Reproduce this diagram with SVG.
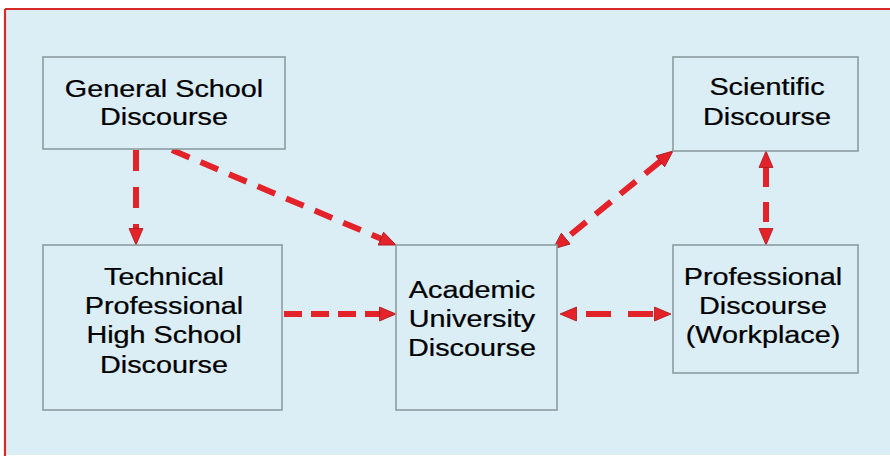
<svg xmlns="http://www.w3.org/2000/svg" width="890" height="456" viewBox="0 0 890 456">
<style>
.box{fill:#dbeef6;stroke:#8c9c9f;stroke-width:1.6}
.lbl{font-family:"Liberation Sans",Arial,sans-serif;font-size:24px;fill:#000000;stroke:#000000;stroke-width:0.25;text-anchor:middle}
.cn{fill:none;stroke:#e3222a;stroke-width:6}
</style>
<defs>
<marker id="ah" markerUnits="userSpaceOnUse" markerWidth="18" markerHeight="16" refX="1" refY="8" orient="auto-start-reverse" viewBox="0 0 18 16">
<path d="M0.5,1 L17,8 L0.5,15 z" fill="#e3222a" stroke="#a8161c" stroke-width="0.8"/>
</marker>
</defs>
<rect x="0" y="0" width="890" height="456" fill="#ffffff"/>
<rect x="5" y="9" width="890" height="446" fill="#dbeef6"/>
<line x1="5" y1="9" x2="890" y2="9" stroke="#d62a2a" stroke-width="2.2"/>
<line x1="5" y1="9" x2="5" y2="456" stroke="#d62a2a" stroke-width="2.2"/>

<g id="connectors">
<path class="cn" d="M136,150 V229" stroke-dasharray="21 16" marker-end="url(#ah)"/>
<path class="cn" d="M172,150 L381.3,238.8" stroke-dasharray="19 12" marker-end="url(#ah)"/>
<path class="cn" d="M284,314 H380" stroke-dasharray="18 9" marker-end="url(#ah)"/>
<path class="cn" d="M576,314 H655" stroke-dasharray="25 17" stroke-dashoffset="32" marker-start="url(#ah)" marker-end="url(#ah)"/>
<path class="cn" d="M660.6,161.1 L565.4,238.9" stroke-dasharray="20 12" marker-start="url(#ah)" marker-end="url(#ah)"/>
<path class="cn" d="M766,167 V229" stroke-dasharray="20 15" marker-start="url(#ah)" marker-end="url(#ah)"/>
</g>

<g id="general">
<rect class="box" x="43" y="57" width="242" height="92"/>
<text class="lbl" transform="translate(164,0) scale(1.2,1)"><tspan x="0" y="97">General School</tspan><tspan x="0" y="125">Discourse</tspan></text>
</g>
<g id="scientific">
<rect class="box" x="673" y="57" width="185" height="94"/>
<text class="lbl" transform="translate(767,0) scale(1.2,1)"><tspan x="0" y="95">Scientific</tspan><tspan x="0" y="125">Discourse</tspan></text>
</g>
<g id="technical">
<rect class="box" x="43" y="245" width="239" height="165"/>
<text class="lbl" transform="translate(164,0) scale(1.2,1)"><tspan x="0" y="285">Technical</tspan><tspan x="0" y="314">Professional</tspan><tspan x="0" y="343">High School</tspan><tspan x="0" y="373">Discourse</tspan></text>
</g>
<g id="academic">
<rect class="box" x="396" y="245" width="161" height="165"/>
<text class="lbl" transform="translate(472,0) scale(1.2,1)"><tspan x="0" y="298">Academic</tspan><tspan x="0" y="327">University</tspan><tspan x="0" y="356">Discourse</tspan></text>
</g>
<g id="professional">
<rect class="box" x="673" y="245" width="185" height="128"/>
<text class="lbl" transform="translate(763,0) scale(1.2,1)"><tspan x="0" y="285">Professional</tspan><tspan x="0" y="314">Discourse</tspan><tspan x="0" y="343">(Workplace)</tspan></text>
</g>
</svg>
